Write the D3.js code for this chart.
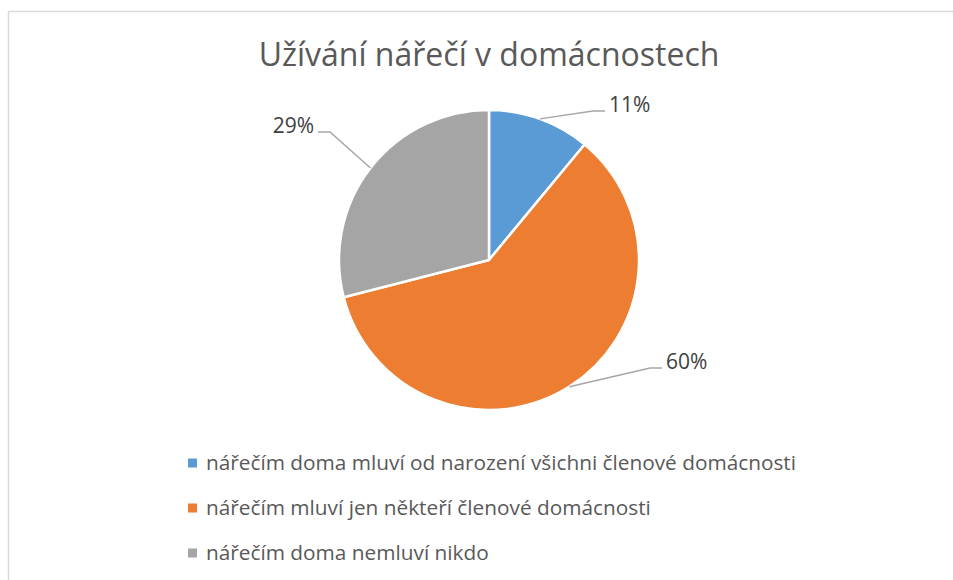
<!DOCTYPE html>
<html>
<head>
	<meta charset="utf-8">
	<title>Užívání nářečí v domácnostech</title>
	<script src="https://cdn.jsdelivr.net/npm/d3@7"></script>
</head>
<style type="text/css">
body
{
	margin: 0;
	background: #fff;
}
text
{
	font-family: "Open Sans", "Noto Sans", sans-serif;
}
</style>
<body>
</body>
</html>
<script type="text/javascript">
	var w = 953;
	var h = 580;

	// data
	var categories = [
		"nářečím doma mluví od narození všichni členové domácnosti",
		"nářečím mluví jen někteří členové domácnosti",
		"nářečím doma nemluví nikdo"
	];
	var values = [11, 60, 29];
	var colors = ["#5b9bd5", "#ed7d31", "#a5a5a5"];
	var title = "Užívání nářečí v domácnostech";

	// where each label's leader line bends, relative to the pie centre (layout only)
	var labelElbows = [[104, -149], [161, 108], [-159, -128]];

	var cx = 489, cy = 260, r = 150;

	var svg = d3.select("body").append("svg").attr("width", w).attr("height", h);

	// chart border (right and bottom edges fall outside the window)
	svg.append("rect")
		.attr("x", 8.5).attr("y", 11.5)
		.attr("width", w + 20).attr("height", h + 20)
		.attr("fill", "none")
		.attr("stroke", "#d9d9d9")
		.attr("stroke-width", 1.5);

	svg.append("text")
		.text(title)
		.attr("x", cx)
		.attr("y", 66)
		.attr("text-anchor", "middle")
		.attr("font-size", 32)
		.attr("fill", "#595959");

	var pie = d3.pie().sort(null).value(function(d){return d});
	var arcs = pie(values);
	var arc = d3.arc().innerRadius(0).outerRadius(r);

	var g = svg.append("g").attr("transform", "translate(" + cx + "," + cy + ")");

	g.selectAll("path.slice").data(arcs).enter().append("path")
		.attr("class", "slice")
		.attr("d", arc)
		.attr("fill", function(d,i){return colors[i]})
		.attr("stroke", "#fff")
		.attr("stroke-width", 2.5)
		.attr("stroke-linejoin", "round");

	// leader lines: from the slice edge at mid angle, to the elbow, then a short horizontal stub
	function edgePoint(d) {
		var a = (d.startAngle + d.endAngle) / 2;
		return [Math.sin(a) * r, -Math.cos(a) * r];
	}
	g.selectAll("path.leader").data(arcs).enter().append("path")
		.attr("class", "leader")
		.attr("d", function(d,i){
			var p = edgePoint(d);
			var e = labelElbows[i];
			var dir = e[0] > 0 ? 1 : -1;
			return d3.line()([p, e, [e[0] + dir * 12, e[1]]]);
		})
		.attr("fill", "none")
		.attr("stroke", "#a6a6a6")
		.attr("stroke-width", 1.5);

	g.selectAll("text.lbl").data(arcs).enter().append("text")
		.attr("class", "lbl")
		.text(function(d){return d3.format(".0f")(d.data) + "%"})
		.attr("x", function(d,i){var e = labelElbows[i]; return e[0] > 0 ? e[0] + 16 : e[0] - 16})
		.attr("y", function(d,i){return labelElbows[i][1] + 1})
		.attr("text-anchor", function(d,i){return labelElbows[i][0] > 0 ? "start" : "end"})
		.attr("font-size", 21)
		.attr("fill", "#404040");

	// legend
	var legendY = d3.scalePoint().domain(d3.range(categories.length)).range([463, 553]);
	var legend = svg.selectAll("g.legend").data(categories).enter().append("g")
		.attr("class", "legend")
		.attr("transform", function(d,i){return "translate(188," + legendY(i) + ")"});
	legend.append("rect")
		.attr("x", 0).attr("y", -4.5)
		.attr("width", 9).attr("height", 9)
		.attr("fill", function(d,i){return colors[i]});
	legend.append("text")
		.text(function(d){return d})
		.attr("x", 18)
		.attr("dy", "0.35em")
		.attr("font-size", 20.8)
		.attr("fill", "#595959");
</script>
